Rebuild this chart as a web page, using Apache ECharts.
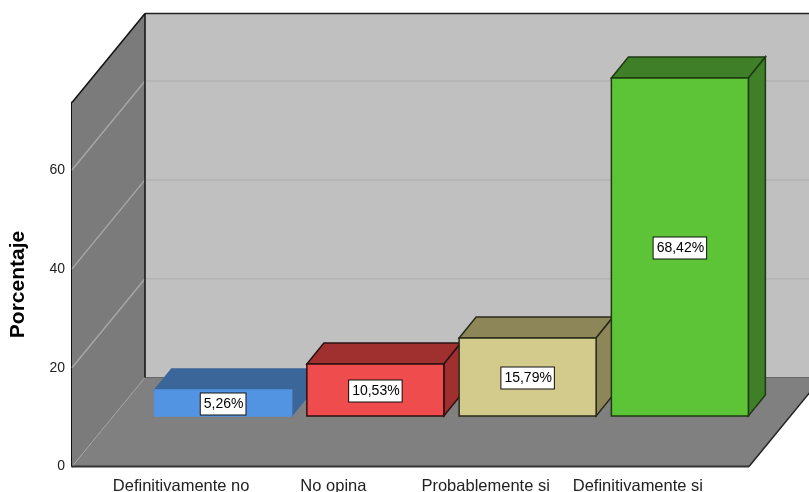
<!DOCTYPE html>
<html>
<head>
<meta charset="utf-8">
<style>
html, body { margin: 0; padding: 0; background: #fff; overflow: hidden; }
#main { width: 809px; height: 492px; }
</style>
<script src="https://cdn.jsdelivr.net/npm/echarts@6/dist/echarts.min.js"></script>
</head>
<body>
<div id="main"></div>
<script>
var categories = ['Definitivamente no', 'No opina', 'Probablemente si', 'Definitivamente si'];
var percentages = [5.26, 10.53, 15.79, 68.42];
var valueLabels = ['5,26%', '10,53%', '15,79%', '68,42%'];
var gridValues = [0, 20, 40, 60];

var frontColors = ['#5294e2', '#ef4c4e', '#d2cb8c', '#5dc437'];
var sideColors = ['#3b6699', '#a03030', '#8c8659', '#3f7f27'];
var edgeColors = ['#5294e2', '#2a1212', '#2a2a18', '#1e3a12'];
var sideEdgeColors = ['#3b6699', '#2a1212', '#2a2a18', '#1e3a12'];

var FONT = '"Liberation Sans", Arial, sans-serif';
// depth of the room and of each bar, in pixels
var wallDx = 73, wallDy = 89;
var barDx = 17, barDy = 21;
// bars stand further back on the floor than the labels
var floorDx = 42, floorDy = 50.5;
var barHalf = 68.5;

function poly(points, fill, stroke, lineWidth) {
	return {
		type: 'polygon',
		shape: { points: points },
		style: { fill: fill, stroke: stroke || null, lineWidth: lineWidth || 0 }
	};
}
function line(x1, y1, x2, y2, color, width) {
	return {
		type: 'line',
		shape: { x1: x1, y1: y1, x2: x2, y2: y2 },
		style: { stroke: color, lineWidth: width }
	};
}

function renderWalls(params, api) {
	var cs = params.coordSys;
	var left = 72, right = 809;
	var floorY = api.coord([0, 0])[1];
	var topY = cs.y;
	var backX = left + wallDx;
	var backBottom = floorY - wallDy;
	var backTop = topY - wallDy;
	var frontRight = 749;
	var els = [
		poly([[backX, backTop], [right, backTop], [right, backBottom], [backX, backBottom]], '#c0c0c0'),
		poly([[left, topY], [backX, backTop], [backX, backBottom], [left, floorY]], '#7b7b7b'),
		poly([[left, floorY], [backX, backBottom], [frontRight + wallDx, backBottom], [frontRight, floorY]], '#808080')
	];
	gridValues.forEach(function (v) {
		var y = api.coord([0, v])[1];
		if (v > 0) {
			els.push(line(backX, y - wallDy, right, y - wallDy, '#b3b3b3', 1.5));
			els.push(line(left, y, backX, y - wallDy, '#a6a6a6', 1.5));
		} else {
			els.push(line(left, y, backX, y - wallDy, '#a0a0a0', 1));
			els.push(line(backX, y - wallDy, right, y - wallDy, '#666666', 1));
		}
	});
	els.push(line(backX, backTop, right, backTop, '#222222', 1.5));
	els.push(line(left, topY, backX, backTop, '#111111', 1.5));
	els.push(line(backX, backTop, backX, backBottom, '#111111', 1.5));
	els.push(line(left, floorY, frontRight, floorY, '#333333', 2));
	els.push(line(frontRight, floorY, frontRight + wallDx, backBottom, '#222222', 1.5));
	return { type: 'group', children: els };
}

function renderBar(params, api) {
	var i = api.value(0);
	var p0 = api.coord([i, 0]);
	var p1 = api.coord([i, api.value(1)]);
	var x0 = p0[0] + floorDx - barHalf;
	var x1 = p0[0] + floorDx + barHalf;
	var y0 = p0[1] - floorDy;
	var y1 = p1[1] - floorDy;
	return {
		type: 'group',
		children: [
			poly([[x0, y1], [x0 + barDx, y1 - barDy], [x1 + barDx, y1 - barDy], [x1, y1]], sideColors[i], sideEdgeColors[i], 1.5),
			poly([[x1, y1], [x1 + barDx, y1 - barDy], [x1 + barDx, y0 - barDy], [x1, y0]], sideColors[i], sideEdgeColors[i], 1.5),
			poly([[x0, y1], [x1, y1], [x1, y0], [x0, y0]], frontColors[i], edgeColors[i], 1.5),
			{
				type: 'text',
				style: {
					x: (x0 + x1) / 2,
					y: (y0 + y1) / 2 + 1,
					text: valueLabels[i],
					align: 'center',
					verticalAlign: 'middle',
					fill: '#000',
					font: '14px ' + FONT,
					backgroundColor: '#fff',
					borderColor: '#111',
					borderWidth: 1,
					padding: [4, 2, 3, 3]
				}
			}
		]
	};
}

var chart = echarts.init(document.getElementById('main'));
chart.setOption({
	animation: false,
	backgroundColor: '#fff',
	grid: { left: 105, top: 102.5, width: 609, height: 364, outerBoundsMode: 'none' },
	xAxis: {
		type: 'category',
		data: categories,
		axisLine: { show: false },
		axisTick: { show: false },
		axisLabel: { color: '#222', fontFamily: FONT, fontSize: 16.5, margin: 11, interval: 0 }
	},
	yAxis: {
		type: 'value',
		min: 0,
		max: 73.68,
		interval: 20,
		offset: 33,
		name: 'Porcentaje',
		nameLocation: 'middle',
		nameGap: 43,
		nameTextStyle: { color: '#000', fontFamily: FONT, fontSize: 21, fontWeight: 'bold' },
		axisLine: { show: true, lineStyle: { color: '#111', width: 2 } },
		axisTick: { show: false },
		splitLine: { show: false },
		axisLabel: { color: '#222', fontFamily: FONT, fontSize: 14, margin: 7, showMaxLabel: false, padding: [6, 0, 0, 0] }
	},
	series: [
		{
			type: 'custom',
			silent: true,
			clip: false,
			z: 1,
			renderItem: renderWalls,
			data: [[0, 0]]
		},
		{
			type: 'custom',
			silent: true,
			clip: false,
			z: 2,
			renderItem: renderBar,
			encode: { x: 0, y: 1 },
			data: percentages.map(function (v, i) { return [i, v]; })
		}
	]
});
</script>
</body>
</html>
